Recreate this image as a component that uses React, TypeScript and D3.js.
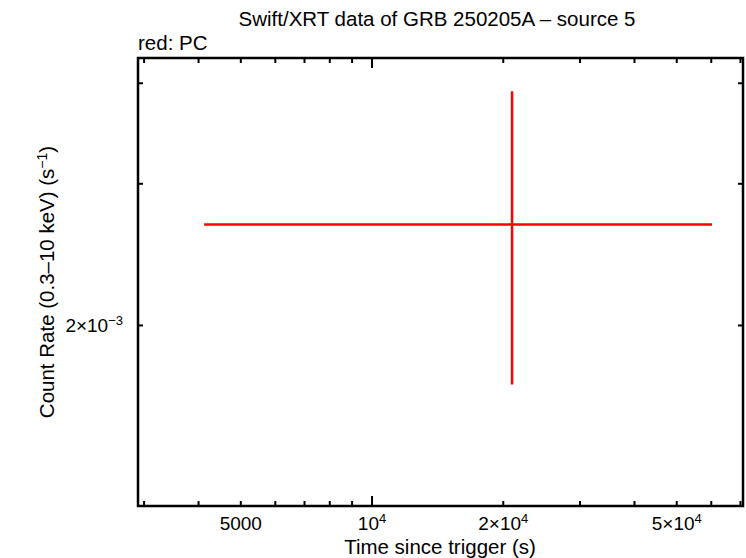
import React from "react";
import * as d3 from "d3";

// light curve point (PC mode) with error extents
const timeMid = [20950];
const timeLo = [4120];
const timeHi = [60230];
const rateMid = [2.67e-3];
const rateLo = [1.689e-3];
const rateHi = [3.91e-3];

// axis domains
const xDomain = [2905, 70950];
const yDomain = [1.193e-3, 4.3e-3];

// ticks
const xMinorTicks = [3000, 4000, 5000, 6000, 7000, 8000, 9000, 20000, 30000, 40000, 50000, 60000, 70000];
const xMajorTicks = [10000];
const yMinorTicks = [2e-3, 3e-3, 4e-3];
const xTickValues = [5000, 10000, 20000, 50000];
const xTickBase = ["5000", "10", "2\u00d710", "5\u00d710"];
const xTickExp = ["", "4", "4", "4"];
const yTickValues = [2e-3];
const yTickBase = ["2\u00d710"];
const yTickExp = ["\u22123"];

const W = 746;
const H = 558;
const left = 138;
const right = 743;
const top = 58;
const bottom = 506;
const font = "'Liberation Sans', Arial, Helvetica, sans-serif";
const titleSize = 20.5;

const App: React.FC = () => {
  const x = d3.scaleLog().domain(xDomain).range([left, right]);
  const y = d3.scaleLog().domain(yDomain).range([bottom, top]);

  const red = "#ff0000";

  return (
    <div style={{ position: "absolute", left: 0, top: 0 }}>
      <svg width={W} height={H} style={{ display: "block", background: "#fff" }} fontFamily={font}>
        {/* title */}
        <text x={437} y={26} textAnchor="middle" fontSize={titleSize}>
          Swift/XRT data of GRB 250205A {"\u2013"} source 5
        </text>
        <text x={left} y={50} fontSize={titleSize}>
          red: PC
        </text>

        {/* ticks, inward on all four sides */}
        <g stroke="#000" strokeWidth={2}>
          {xMinorTicks.map((t) => (
            <g key={"xm" + t}>
              <line x1={x(t)} x2={x(t)} y1={bottom} y2={bottom - 5} />
              <line x1={x(t)} x2={x(t)} y1={top} y2={top + 5} />
            </g>
          ))}
          {xMajorTicks.map((t) => (
            <g key={"xM" + t}>
              <line x1={x(t)} x2={x(t)} y1={bottom} y2={bottom - 10} />
              <line x1={x(t)} x2={x(t)} y1={top} y2={top + 10} />
            </g>
          ))}
          {yMinorTicks.map((t) => (
            <g key={"ym" + t}>
              <line x1={left} x2={left + 5} y1={y(t)} y2={y(t)} />
              <line x1={right} x2={right - 5} y1={y(t)} y2={y(t)} />
            </g>
          ))}
        </g>

        {/* data */}
        <g stroke={red} strokeWidth={2.5}>
          {timeMid.map((t, i) => (
            <g key={i}>
              <line x1={x(timeLo[i])} x2={x(timeHi[i])} y1={y(rateMid[i])} y2={y(rateMid[i])} />
              <line x1={x(t)} x2={x(t)} y1={y(rateLo[i])} y2={y(rateHi[i])} />
            </g>
          ))}
        </g>

        {/* frame */}
        <rect x={left} y={top} width={right - left} height={bottom - top} fill="none" stroke="#000" strokeWidth={2.5} />

        {/* tick labels */}
        {xTickValues.map((t, i) => (
          <text key={"xl" + t} x={x(t)} y={530} textAnchor="middle" fontSize={19}>
            {xTickBase[i]}
            {xTickExp[i] && (
              <tspan fontSize={13} dy={-7}>
                {xTickExp[i]}
              </tspan>
            )}
          </text>
        ))}
        {yTickValues.map((t, i) => (
          <text key={"yl" + t} x={123} y={y(t) + 7} textAnchor="end" fontSize={19}>
            {yTickBase[i]}
            <tspan fontSize={13} dy={-7}>
              {yTickExp[i]}
            </tspan>
          </text>
        ))}

        {/* axis titles */}
        <text x={440} y={554} textAnchor="middle" fontSize={titleSize}>
          Time since trigger (s)
        </text>
        <text transform={`translate(54, 282) rotate(-90)`} textAnchor="middle" fontSize={titleSize}>
          Count Rate (0.3{"\u2013"}10 keV) (s
          <tspan fontSize={14} dy={-7}>
            {"\u22121"}
          </tspan>
          <tspan dy={7}>)</tspan>
        </text>
      </svg>
    </div>
  );
};

export default App;
